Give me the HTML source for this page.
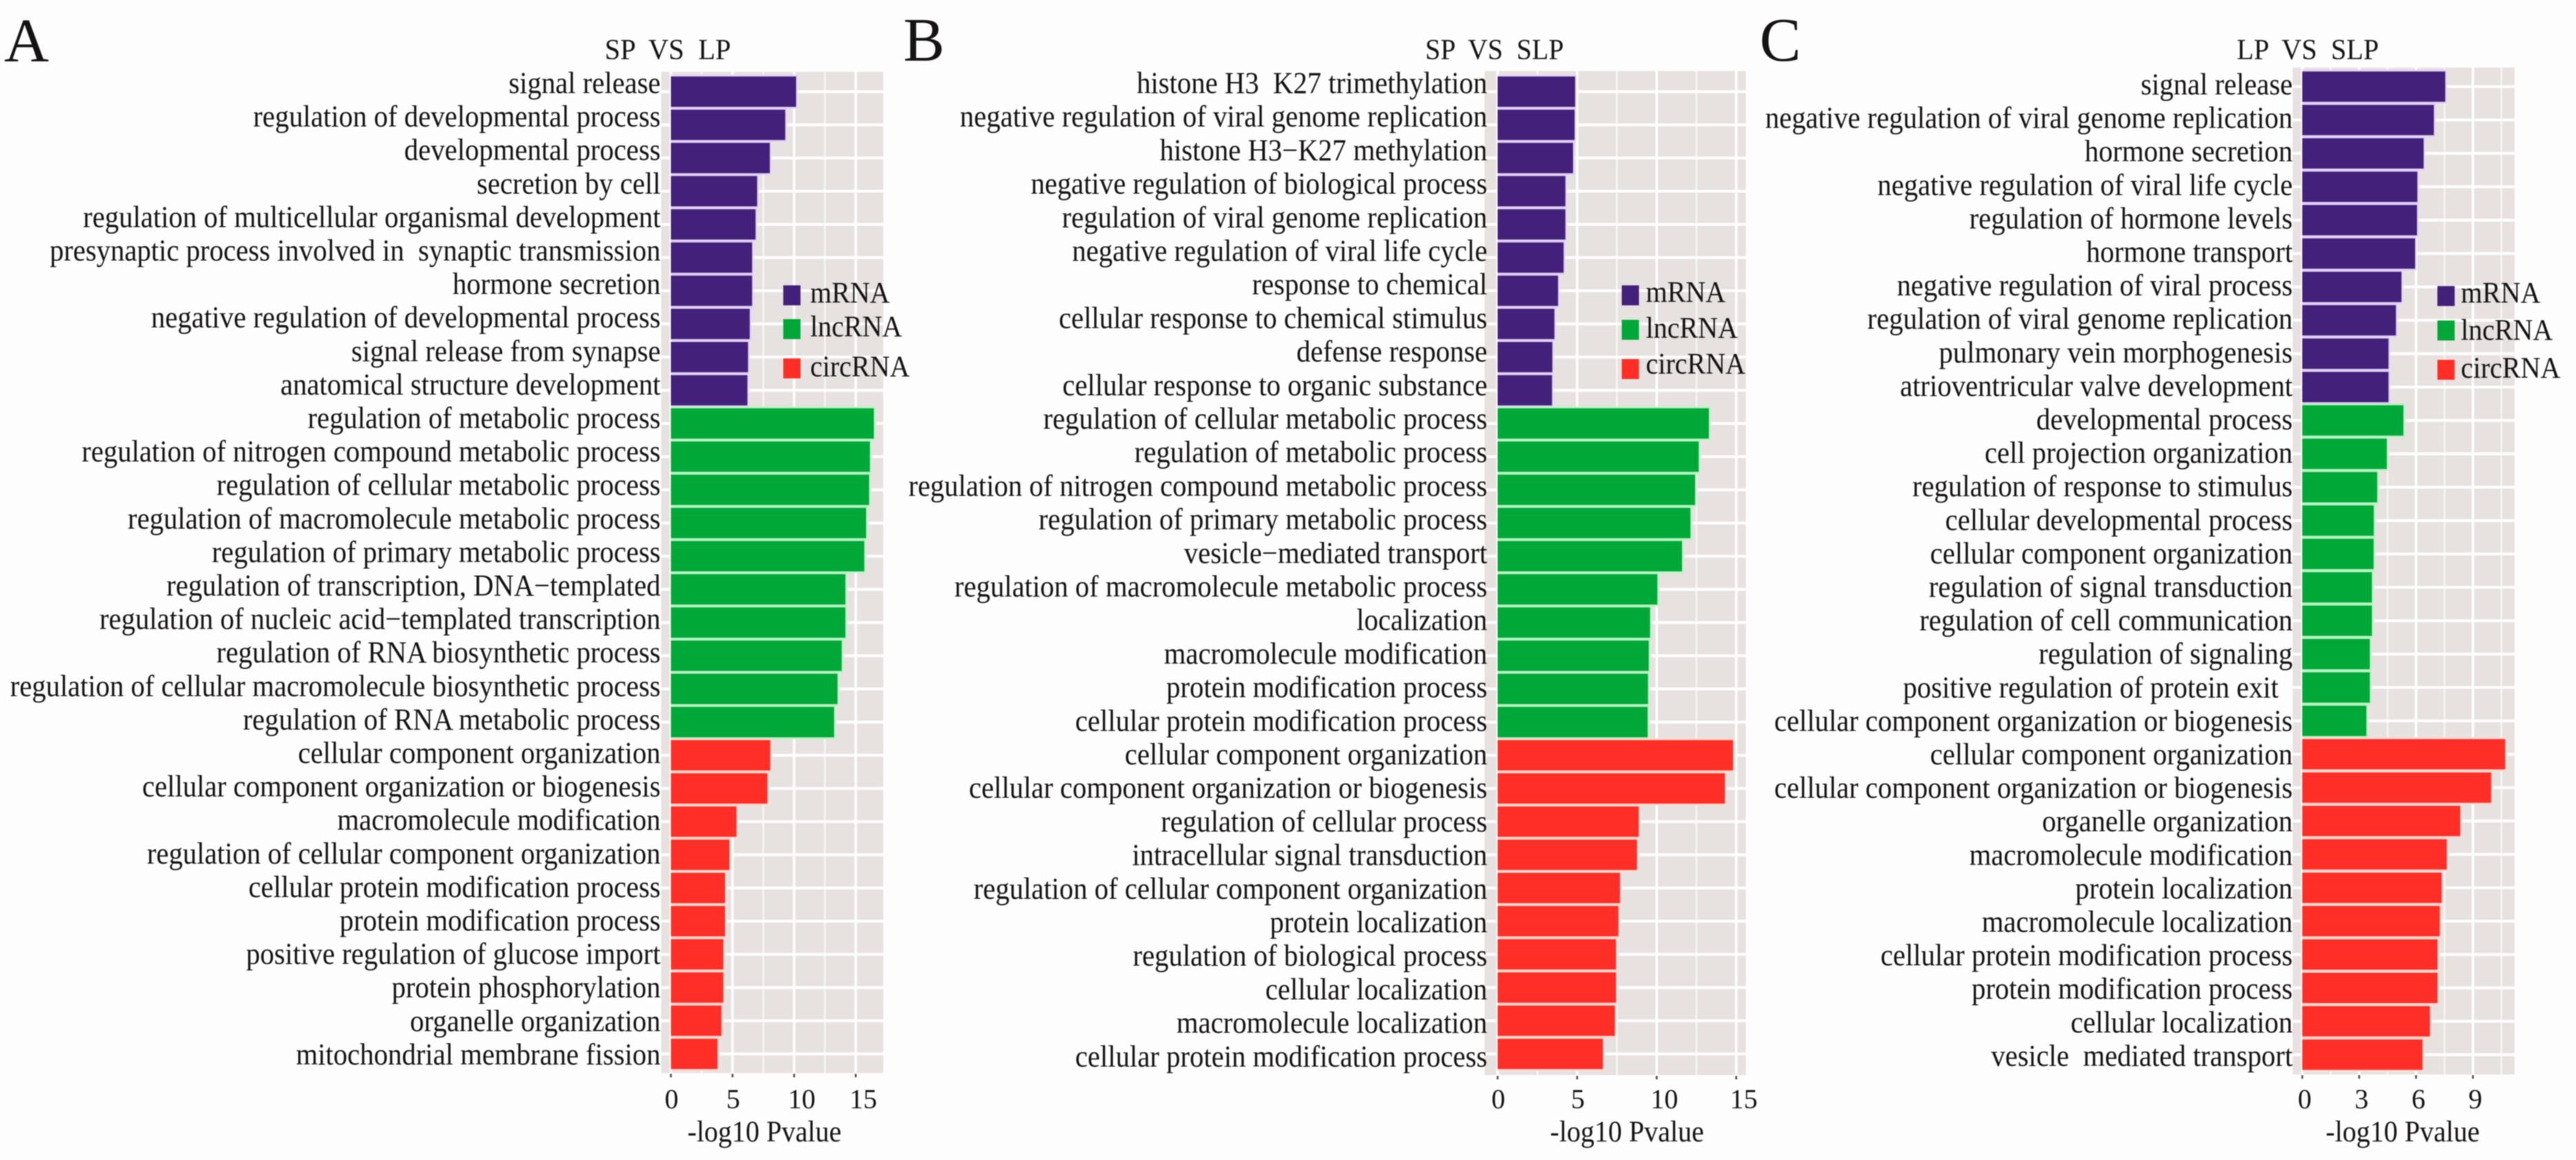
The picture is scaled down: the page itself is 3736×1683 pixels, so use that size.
<!DOCTYPE html>
<html lang="en">
<head>
<meta charset="utf-8">
<title>GO enrichment bar charts</title>
<style>
html,body{margin:0;padding:0;background:#fefdfd;}
svg{display:block;filter:blur(0.7px);}
text{font-family:"Liberation Serif",serif;fill:#141212;white-space:pre;}
</style>
</head>
<body>
<svg id="figure" xmlns="http://www.w3.org/2000/svg" width="3736" height="1683" viewBox="0 0 3736 1683">
  <rect x="0" y="0" width="3736" height="1683" fill="#fefdfd"/>
  <text x="6" y="89" font-size="90">A</text>
  <text x="1310" y="88" font-size="90">B</text>
  <text x="2552" y="88" font-size="90">C</text>
  <text x="877" y="86" font-size="42" textLength="183" lengthAdjust="spacingAndGlyphs">SP  VS  LP</text>
  <text x="2067" y="86" font-size="42" textLength="201" lengthAdjust="spacingAndGlyphs">SP  VS  SLP</text>
  <text x="3244" y="86" font-size="42" textLength="206" lengthAdjust="spacingAndGlyphs">LP  VS  SLP</text>
  <text transform="translate(997 1656) scale(1 1.08)" font-size="40">-log10 Pvalue</text>
  <text transform="translate(2248 1656) scale(1 1.08)" font-size="40">-log10 Pvalue</text>
  <text transform="translate(3373 1656) scale(1 1.08)" font-size="40">-log10 Pvalue</text>
  <g id="charts"></g>
</svg>
<script>
const seriesNames = ["mRNA", "lncRNA", "circRNA"];

const panelATerms = [
  "signal release","regulation of developmental process","developmental process","secretion by cell",
  "regulation of multicellular organismal development","presynaptic process involved in  synaptic transmission",
  "hormone secretion","negative regulation of developmental process","signal release from synapse","anatomical structure development",
  "regulation of metabolic process","regulation of nitrogen compound metabolic process","regulation of cellular metabolic process",
  "regulation of macromolecule metabolic process","regulation of primary metabolic process","regulation of transcription, DNA\u2212templated",
  "regulation of nucleic acid\u2212templated transcription","regulation of RNA biosynthetic process","regulation of cellular macromolecule biosynthetic process","regulation of RNA metabolic process",
  "cellular component organization","cellular component organization or biogenesis","macromolecule modification","regulation of cellular component organization",
  "cellular protein modification process","protein modification process","positive regulation of glucose import","protein phosphorylation","organelle organization","mitochondrial membrane fission"
];
const panelAmRNA = [10.16,9.28,8.03,7.0,6.87,6.59,6.59,6.4,6.26,6.21];
const panelAlncRNA = [16.47,16.15,16.08,15.84,15.69,14.16,14.16,13.86,13.52,13.24];
const panelAcircRNA = [8.06,7.83,5.32,4.75,4.39,4.39,4.25,4.25,4.1,3.78];
const panelATicks = [0,5,10,15];

const panelBTerms = [
  "histone H3  K27 trimethylation","negative regulation of viral genome replication","histone H3\u2212K27 methylation","negative regulation of biological process",
  "regulation of viral genome replication","negative regulation of viral life cycle","response to chemical","cellular response to chemical stimulus","defense response","cellular response to organic substance",
  "regulation of cellular metabolic process","regulation of metabolic process","regulation of nitrogen compound metabolic process","regulation of primary metabolic process","vesicle\u2212mediated transport",
  "regulation of macromolecule metabolic process","localization","macromolecule modification","protein modification process","cellular protein modification process",
  "cellular component organization","cellular component organization or biogenesis","regulation of cellular process","intracellular signal transduction","regulation of cellular component organization",
  "protein localization","regulation of biological process","cellular localization","macromolecule localization","cellular protein modification process"
];
const panelBmRNA = [4.87,4.84,4.74,4.26,4.26,4.15,3.8,3.57,3.44,3.42];
const panelBlncRNA = [13.28,12.64,12.41,12.12,11.59,10.04,9.58,9.5,9.45,9.43];
const panelBcircRNA = [14.8,14.29,8.87,8.76,7.69,7.59,7.44,7.44,7.37,6.62];
const panelBTicks = [0,5,10,15];

const panelCTerms = [
  "signal release","negative regulation of viral genome replication","hormone secretion","negative regulation of viral life cycle","regulation of hormone levels","hormone transport",
  "negative regulation of viral process","regulation of viral genome replication","pulmonary vein morphogenesis","atrioventricular valve development",
  "developmental process","cell projection organization","regulation of response to stimulus","cellular developmental process","cellular component organization",
  "regulation of signal transduction","regulation of cell communication","regulation of signaling","positive regulation of protein exit  ","cellular component organization or biogenesis",
  "cellular component organization","cellular component organization or biogenesis","organelle organization","macromolecule modification","protein localization",
  "macromolecule localization","cellular protein modification process","protein modification process","cellular localization","vesicle  mediated transport"
];
const panelCmRNA = [7.54,6.94,6.4,6.07,6.05,5.95,5.23,4.94,4.55,4.55];
const panelClncRNA = [5.33,4.46,3.95,3.77,3.76,3.67,3.67,3.56,3.56,3.38];
const panelCcircRNA = [10.7,9.96,8.33,7.62,7.35,7.25,7.13,7.13,6.73,6.34];
const panelCTicks = [0,3,6,9];

const SVG_NS = "http://www.w3.org/2000/svg";
const seriesFill = ["#43217a", "#00a838", "#ff2e26"];
const seriesHalo = ["#e2d2f6", "#b8f2c2", "#ffd9d2"];
const chartsRoot = document.getElementById("charts");

function shape(parent, tag, attrs, text) {
  const el = document.createElementNS(SVG_NS, tag);
  for (const k in attrs) el.setAttribute(k, attrs[k]);
  if (text !== undefined) el.textContent = text;
  parent.appendChild(el);
  return el;
}

function drawPanel(cfg) {
  const g = shape(chartsRoot, "g", {});
  
  
  const xScale = v => cfg.x0 + v * cfg.k;
  const yScale = i => cfg.yFirst + i * cfg.yStep;
  const labelY = i => cfg.labelFirst + i * cfg.labelStep;

  const bg = shape(g, "rect", {x: cfg.left, y: cfg.top, width: cfg.right - cfg.left, height: cfg.bottom - cfg.top, fill: "#e7e2e0"});
  
  

  const tickStep = cfg.ticks[1] - cfg.ticks[0];
  const extended = cfg.ticks.concat([cfg.ticks[cfg.ticks.length - 1] + tickStep]);
  extended.forEach(t => {
    const mx = xScale(t + tickStep / 2);
    if (mx < cfg.right) {
      const minor = shape(g, "rect", {x: mx - 1, y: cfg.top, width: 2, height: cfg.bottom - cfg.top, fill: "#fbf9f8"});
      
      
    }
  });
  cfg.ticks.forEach(t => {
    const line = shape(g, "rect", {x: xScale(t) - 1.75, y: cfg.top, width: 3.5, height: cfg.bottom - cfg.top, fill: "#ffffff"});
    
    
  });

  const groups = [cfg.mRNA, cfg.lncRNA, cfg.circRNA];
  let idx = 0;
  const rows = [];
  groups.forEach((vals, s) => vals.forEach(v => rows.push({v: v, s: s, i: idx++})));

  rows.forEach(r => {
    const line = shape(g, "rect", {x: cfg.left, y: yScale(r.i) - 2, width: cfg.right - cfg.left, height: 4, fill: "#ffffff"});
    
    
  });

  rows.forEach(r => {
    const halo = shape(g, "rect", {x: cfg.x0, y: yScale(r.i) - 24.5, width: r.v * cfg.k + 2, height: 49, fill: seriesHalo[r.s]});
    
    
  });
  rows.forEach(r => {
    const bar = shape(g, "rect", {x: cfg.x0, y: yScale(r.i) - 22, width: r.v * cfg.k, height: 44, fill: seriesFill[r.s]});
    
    
  });

  cfg.terms.forEach((term, i) => {
    const label = shape(g, "text", {transform: "translate(" + cfg.labelRight + " " + labelY(i) + ") scale(1 1.08)", "font-size": 40.7, "text-anchor": "end"}, term);
    
    
  });

  cfg.ticks.forEach(t => {
    const tick = shape(g, "rect", {x: xScale(t) - 1.25, y: cfg.bottom + 1, width: 2.5, height: 5, fill: "#444444"});
    
    
    const label = shape(g, "text", {x: xScale(t) - cfg.tickShift, y: 1608, "font-size": 40}, String(t));
    
    
  });

  seriesNames.forEach((name, s) => {
    const sw = shape(g, "rect", {x: cfg.legendX, y: cfg.legendY[s], width: 25, height: 29, fill: seriesFill[s]});
    
    
    const t = shape(g, "text", {transform: "translate(" + cfg.legendTextX + " " + cfg.legendBase[s] + ") scale(1 1.08)", "font-size": 40}, name);
    
    
  });
}

drawPanel({
  id: "a", terms: panelATerms, mRNA: panelAmRNA, lncRNA: panelAlncRNA, circRNA: panelAcircRNA, ticks: panelATicks,
  left: 959, right: 1281, top: 104, bottom: 1557, x0: 973, k: 17.87,
  yFirst: 133, yStep: 48.14, labelFirst: 135, labelStep: 48.6, labelRight: 958, tickShift: 9,
  legendX: 1136, legendTextX: 1175, legendY: [414, 463, 520], legendBase: [439, 488, 546]
});
drawPanel({
  id: "b", terms: panelBTerms, mRNA: panelBmRNA, lncRNA: panelBlncRNA, circRNA: panelBcircRNA, ticks: panelBTicks,
  left: 2153, right: 2532, top: 103, bottom: 1560, x0: 2172, k: 23.07,
  yFirst: 133, yStep: 48.14, labelFirst: 135, labelStep: 48.7, labelRight: 2157, tickShift: 9,
  legendX: 2352, legendTextX: 2387, legendY: [414, 464, 521], legendBase: [438, 490, 542]
});
drawPanel({
  id: "c", terms: panelCTerms, mRNA: panelCmRNA, lncRNA: panelClncRNA, circRNA: panelCcircRNA, ticks: panelCTicks,
  left: 3325, right: 3647, top: 98, bottom: 1559, x0: 3339, k: 27.5,
  yFirst: 125.7, yStep: 48.43, labelFirst: 137, labelStep: 48.6, labelRight: 3325, tickShift: 6.5,
  legendX: 3535, legendTextX: 3569, legendY: [415, 465, 522], legendBase: [439, 493, 548]
});
</script>
</body>
</html>
